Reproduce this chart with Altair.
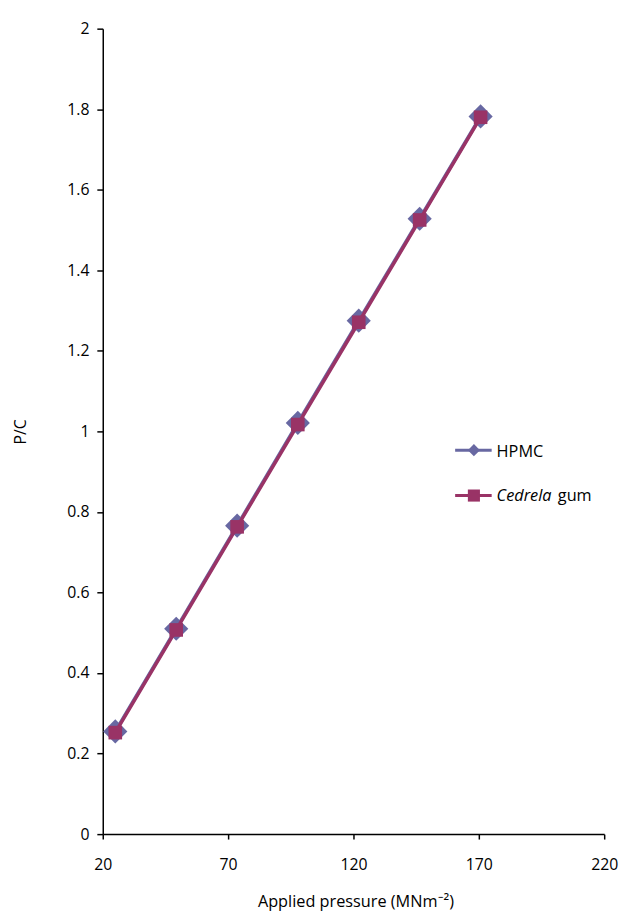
import altair as alt
import pandas as pd

# ---- data ----
pressure = [25.0, 49.3, 73.6, 97.8, 122.1, 146.4, 170.7]
pc_hpmc = [0.255, 0.510, 0.766, 1.021, 1.275, 1.528, 1.782]
pc_cedrela = [0.252, 0.507, 0.763, 1.017, 1.271, 1.525, 1.780]

x_ticks = [20, 70, 120, 170, 220]
y_ticks = [0, 0.2, 0.4, 0.6, 0.8, 1, 1.2, 1.4, 1.6, 1.8, 2]

series_names = ["HPMC", "Cedrela gum"]
c_hpmc = "#6868A2"
c_ced = "#993366"

FONT = "Open Sans"

df_h = pd.DataFrame({"pressure": pressure, "pc": pc_hpmc, "series": series_names[0]})
df_c = pd.DataFrame({"pressure": pressure, "pc": pc_cedrela, "series": series_names[1]})

x_enc = alt.X(
    "pressure:Q",
    scale=alt.Scale(domain=[20, 220], nice=False, zero=False),
    axis=alt.Axis(
        values=x_ticks,
        title="Applied pressure (MNm⁻²)",
        tickSize=5,
        labelPadding=18,
        labelFlush=False,
        titleX=256,
        titleY=73,
        titleAlign="center",
        titleBaseline="alphabetic",
        titleFontSize=16.5,
    ),
)
y_enc = alt.Y(
    "pc:Q",
    scale=alt.Scale(domain=[0, 2], nice=False),
    axis=alt.Axis(
        values=y_ticks,
        format="~g",
        title="P/C",
        tickSize=6,
        labelPadding=8,
        labelFlush=False,
        titleX=-83,
        titleY=408,
        titleAngle=270,
        titleAlign="center",
        titleBaseline="middle",
    ),
)

line_h = alt.Chart(df_h).mark_line(color=c_hpmc, strokeWidth=3.5).encode(x=x_enc, y=y_enc)
pts_h = alt.Chart(df_h).mark_point(
    shape="diamond", filled=True, size=600, color=c_hpmc, opacity=1
).encode(x="pressure:Q", y="pc:Q")
line_c = alt.Chart(df_c).mark_line(color=c_ced, strokeWidth=3.5).encode(x="pressure:Q", y="pc:Q")
pts_c = alt.Chart(df_c).mark_point(
    shape="square", filled=True, size=190, color=c_ced, opacity=1
).encode(x="pressure:Q", y="pc:Q")

# ---- legend (decoration at fixed positions inside the plot) ----
leg_df = pd.DataFrame({"series": series_names})
leg_h = leg_df.iloc[[0]]
leg_c = leg_df.iloc[[1]]

lg_line_h = alt.Chart(leg_h).mark_rule(color=c_hpmc, strokeWidth=3).encode(
    x=alt.value(357), x2=alt.value(394), y=alt.value(427)
)
lg_pt_h = alt.Chart(leg_h).mark_point(shape="diamond", filled=True, size=150, color=c_hpmc, opacity=1).encode(
    x=alt.value(376), y=alt.value(427)
)
lg_txt_h = alt.Chart(leg_h).mark_text(
    font=FONT, fontSize=16.5, align="left", baseline="alphabetic", color="black"
).encode(x=alt.value(399), y=alt.value(434), text="series:N")

lg_line_c = alt.Chart(leg_c).mark_rule(color=c_ced, strokeWidth=3).encode(
    x=alt.value(357), x2=alt.value(394), y=alt.value(473)
)
lg_pt_c = alt.Chart(leg_c).mark_point(shape="square", filled=True, size=150, color=c_ced, opacity=1).encode(
    x=alt.value(376), y=alt.value(473)
)
lg_txt_c1 = alt.Chart(leg_c).mark_text(
    font=FONT, fontSize=16.5, fontStyle="italic", align="left", baseline="alphabetic", color="black"
).encode(x=alt.value(399), y=alt.value(479), text=alt.value("Cedrela"))
lg_txt_c2 = alt.Chart(leg_c).mark_text(
    font=FONT, fontSize=16.5, align="left", baseline="alphabetic", color="black"
).encode(x=alt.value(461), y=alt.value(479), text=alt.value("gum"))

chart = (
    alt.layer(
        line_h, pts_h, line_c, pts_c,
        lg_line_h, lg_pt_h, lg_txt_h, lg_line_c, lg_pt_c, lg_txt_c1, lg_txt_c2,
    )
    .properties(
        width=508,
        height=816,
        autosize="none",
        padding={"left": 96, "top": 15, "right": 15, "bottom": 76},
    )
    .configure_view(stroke=None)
    .configure_axis(
        grid=False,
        domainColor="black",
        domainWidth=1.5,
        tickColor="black",
        tickWidth=1.5,
        labelFont=FONT,
        labelFontSize=16,
        labelColor="black",
        titleFont=FONT,
        titleFontSize=16,
        titleFontWeight="normal",
        titleColor="black",
    )
)

chart.save("out.html", embed_options={"renderer": "svg", "actions": False})
